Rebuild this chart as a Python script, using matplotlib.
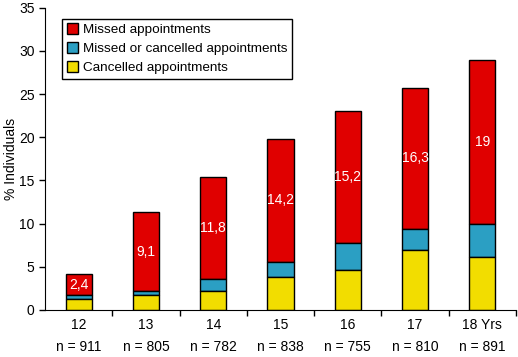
import matplotlib.pyplot as plt
import numpy as np

plt.rcParams['font.family'] = ['Liberation Sans', 'DejaVu Sans']

ages = ['12', '13', '14', '15', '16', '17', '18 Yrs']
counts = [911, 805, 782, 838, 755, 810, 891]
cancelled = [1.3, 1.7, 2.2, 3.8, 4.6, 6.9, 6.1]
missed_or_cancelled = [0.4, 0.5, 1.4, 1.8, 3.2, 2.5, 3.9]
missed = [2.4, 9.1, 11.8, 14.2, 15.2, 16.3, 19]
missed_labels = ['2,4', '9,1', '11,8', '14,2', '15,2', '16,3', '19']

red = '#E00000'
blue = '#2B9FC3'
yellow = '#F2DD00'

fig = plt.figure(figsize=(5.18, 3.57), dpi=100)
ax = fig.add_axes([0.087, 0.132, 0.909, 0.846])

x = np.arange(len(ages))
w = 0.39
b1 = np.array(cancelled)
b2 = b1 + np.array(missed_or_cancelled)

ax.bar(x, missed, w, bottom=b2, color=red, edgecolor='black', linewidth=1,
       label='Missed appointments')
ax.bar(x, missed_or_cancelled, w, bottom=b1, color=blue, edgecolor='black', linewidth=1,
       label='Missed or cancelled appointments')
ax.bar(x, cancelled, w, color=yellow, edgecolor='black', linewidth=1,
       label='Cancelled appointments')

for i in range(len(ages)):
    ax.text(x[i], b2[i] + missed[i] / 2, missed_labels[i], color='white',
            ha='center', va='center', fontsize=10)

ax.set_xlim(-0.5, 6.5)
ax.set_ylim(0, 35)
ax.set_yticks(range(0, 36, 5))
ax.set_ylabel('% Individuals', fontsize=10)
ax.yaxis.set_label_coords(-0.057, 0.5)

ax.set_xticks(x)
ax.set_xticklabels([f'{a}\nn = {n}' for a, n in zip(ages, counts)], fontsize=10,
                   linespacing=1.75)
ax.tick_params(axis='x', which='major', length=0, pad=6)
ax.set_xticks(np.arange(0.5, 7, 1), minor=True)
ax.tick_params(axis='x', which='minor', length=4, width=1, direction='out')
ax.tick_params(axis='y', labelsize=10, length=4, width=1, direction='out')

ax.spines['top'].set_visible(False)
ax.spines['right'].set_visible(False)

leg = ax.legend(loc='upper left', bbox_to_anchor=(0.036, 0.964), borderaxespad=0,
                fontsize=9.7, fancybox=False, edgecolor='black', framealpha=1,
                handlelength=0.8, handleheight=0.8, handletextpad=0.4,
                borderpad=0.35, labelspacing=0.45)
leg.get_frame().set_linewidth(1)

fig.savefig('out.png', dpi=100)
